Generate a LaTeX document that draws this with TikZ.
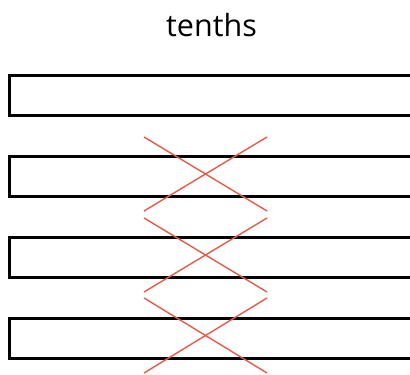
\documentclass[tikz,border=0pt]{standalone}
\usepackage{fontspec}
\setmainfont{Open Sans}
\begin{document}
\begin{tikzpicture}[x=1pt,y=-1pt,
  bar/.style={draw=black,line width=2.6pt,minimum width=430pt,minimum height=40pt,inner sep=0pt,anchor=north west},
  cross/.style={draw={rgb,255:red,232;green,90;blue,72},line width=1.4pt}]
\useasboundingbox (0,0) rectangle (410,375);
\clip (0,0) rectangle (410,375);
\node[anchor=base,font=\fontsize{30.5}{36}\selectfont] (title) at (211.5,36) {tenths};
\foreach \i/\y in {1/74,2/155,3/236,4/317}{
  \node[bar] (r\i) at (8,\y) {};
}
\foreach \i/\t/\b in {1/137/211,2/218/292,3/298/373}{
  \coordinate (a\i) at (144,\t);
  \coordinate (b\i) at (267,\b);
  \coordinate (c\i) at (267,\t);
  \coordinate (d\i) at (144,\b);
  \draw[cross] (a\i) -- (b\i);
  \draw[cross] (c\i) -- (d\i);
}
\end{tikzpicture}
\end{document}
